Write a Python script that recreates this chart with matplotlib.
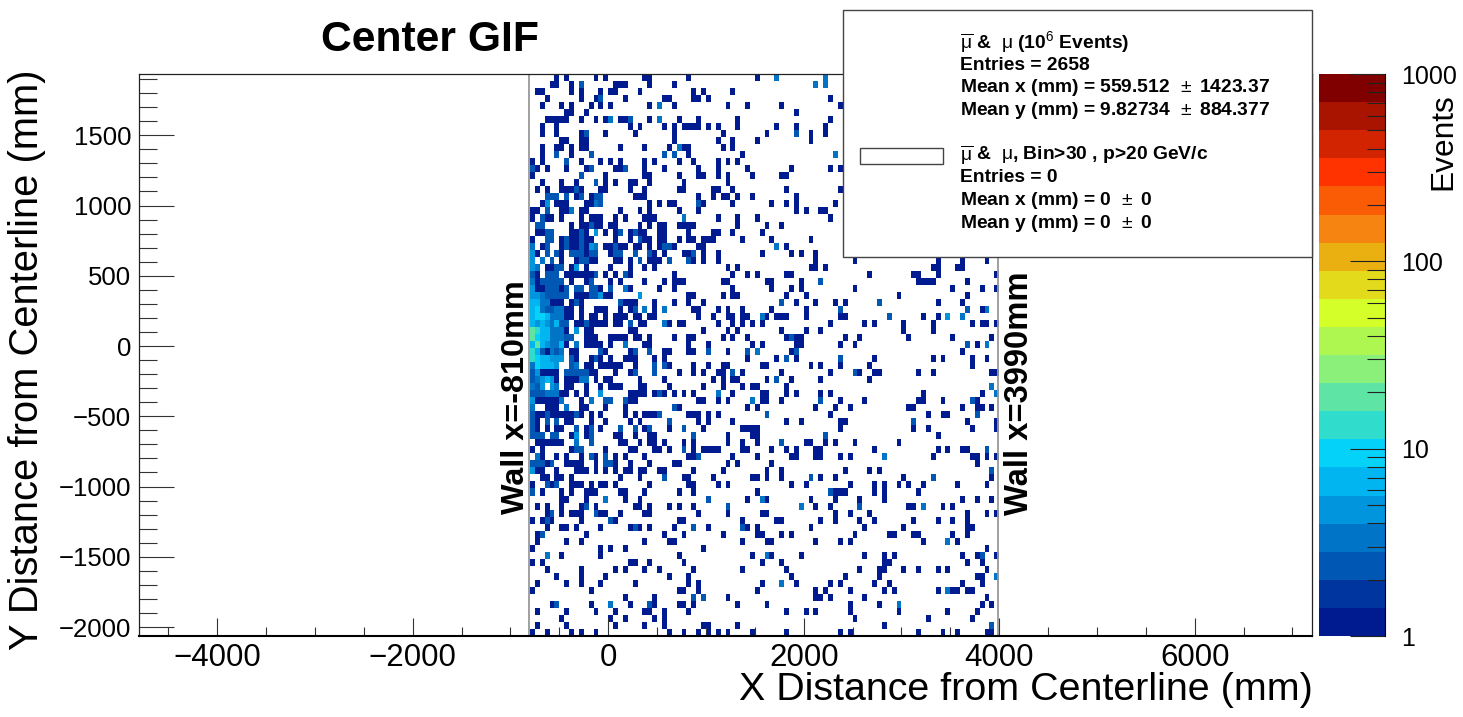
import numpy as np
import matplotlib
matplotlib.use("Agg")
import matplotlib.pyplot as plt
from matplotlib.colors import ListedColormap, BoundaryNorm
from matplotlib.patches import Rectangle
from matplotlib.ticker import FixedLocator, NullFormatter, FuncFormatter

plt.rcParams['font.family'] = ['Liberation Sans', 'DejaVu Sans']
plt.rcParams['mathtext.fontset'] = 'custom'
plt.rcParams['mathtext.rm'] = 'Liberation Sans'
plt.rcParams['mathtext.it'] = 'Liberation Sans'
plt.rcParams['mathtext.bf'] = 'Liberation Sans:bold'

W, H = 1463, 717
X_LIM = (-4800, 7200)
Y_LIM = (-2064, 1936)
BIN = 50
X_START = -800
N_COLS = 96
WALLS = [-810, 3990]

PALETTE = ['#001A8F', '#0035A0', '#0058B4', '#0075C8', '#0095DD', '#00B5F0', '#05D2F8',
           '#30DCCC', '#5EE5A5', '#8BF07A', '#AEF650', '#D4FF28', '#E2DA1A', '#EAB012',
           '#F58510', '#FA5C05', '#FF3300', '#D22400', '#A81400', '#800000']

# One list per histogram row, top row first. An int is a column holding one event;
# a (column, events) pair is a column holding more.
rows = [
 [5,7,13,15,23,24,32,46,(50,3),(60,3)],
 [4,5,8,(10,2),17,18,19,24,29,(58,3),(60,3)],
 [1,2,8,10,14,16,17,22,33,35,41],
 [3,10,13,(14,2),19,27,28,33,34,36,61],
 [2,6,8,12,14,16,24,(26,3),29,40,44,51,63],
 [7,8,11,54],
 [3,4,5,6,7,10,13,15,(16,3),18,19,(20,2),24,(26,3),30,34,42,61],
 [2,5,20,22,27,29,31,32,33,34,36,38,42,50,54,60],
 [2,5,10,(11,2),15,21,29,39,48,(54,2),57,60],
 [6,7,10,11,29,38,41,46,57],
 [2,5,6,8,10,11,18,23,28,(30,3),31,32,39,41],
 [2,(5,2),8,(12,2),(27,2),(29,2),32,43,(62,3)],
 [0,2,(7,2),10,14,16,18,23,25,30,33,38,40,42],
 [(0,2),1,3,7,11,(12,2),17,18,(19,2),23,27,34,38,44,53,61,63],
 [0,(10,2),15,23,24,30,34,35,38,40,45,51,52],
 [2,6,9,(13,2),15,17,20,21,24,31,40],
 [1,3,6,7,8,(9,2),10,14,15,20,23,30,31,37,38,41,52,63],
 [(3,2),(4,2),(5,2),(7,2),9,(10,2),12,(13,2),(14,2),21,22,23,34,37,39,40,42,45,54],
 [2,(3,4),5,6,7,11,12,(13,3),(14,2),24,26,28,29,(34,2),35,41,49,52,54,62],
 [0,1,(3,2),6,7,(8,3),10,11,18,22,24,30,34,54,56,59,60],
 [0,(2,2),3,4,6,10,12,13,14,17,19,23,24,25,(31,3),38,42,46,61],
 [(1,2),(2,2),8,10,11,(12,2),13,14,16,17,22,24,26,27,30,31,32,33,42,48,51],
 [1,2,(3,2),(4,2),8,9,(10,2),11,(13,4),15,17,(18,2),20,(21,2),22,23,26,27,32,37,38,41,47],
 [0,(3,2),(4,2),6,(7,2),8,9,(10,2),11,12,17,20,(22,2),23,24,26,27,30,32,33,35,36,37,43,49,57],
 [(0,3),2,(3,2),6,(7,2),8,9,(10,2),11,(12,4),(13,3),15,16,(17,2),18,19,21,22,24,26,(27,2),(28,2),29,34,35,(50,3),52],
 [(0,4),1,(3,2),(5,2),6,(8,2),(9,2),(10,2),11,(12,2),(13,2),16,(17,2),(18,2),(21,2),(24,2),25,27,31,32,(33,2),35,38,47,53,55,58],
 [(0,4),(2,3),(4,2),6,9,(10,2),(11,2),12,13,17,18,20,(22,2),24,25,26,(28,2),(32,2),33,35,38,58,66,83,88,93],
 [(0,4),(1,3),3,4,(5,2),(6,2),8,(9,4),11,16,20,23,25,40,42,57,58,60,82,83,87,88],
 [(0,2),1,(3,2),(4,2),(5,2),7,8,9,10,11,12,(13,2),15,17,(19,2),20,29,41,44,46,52,53,69,78,79,83,95],
 [(0,3),1,(2,2),(3,2),(4,2),(5,2),(6,2),8,11,(12,2),16,18,23,27,29,30,31,39,40,48,49,55,(59,2),79,80,81,82,89],
 [(0,4),1,2,(3,2),(4,2),(5,2),6,(7,2),(9,2),(10,2),(12,2),(13,2),14,(16,2),(19,3),20,26,29,41,49,53,55,66,86,92,95],
 [(0,4),(1,4),(2,3),(3,2),(4,2),(5,2),(6,2),(7,2),9,10,11,(12,2),(13,2),(14,4),15,16,(22,4),32,33,39,41,42,52,56,75,89],
 [(0,6),(1,6),(2,3),(3,3),4,5,6,8,(9,2),10,(18,2),19,20,21,25,29,32,35,(51,2),54,58,62,64,(71,2),83,88],
 [(0,6),(1,9),(2,3),(3,2),(4,2),(5,3),(6,3),7,8,10,13,14,15,18,20,(21,2),(23,3),25,(27,3),33,34,38,40,43,49,56,(63,2),(89,2),92,(93,3)],
 [(0,6),(1,9),(2,9),(3,6),(4,3),(5,3),(6,3),7,8,10,12,13,15,17,18,19,21,22,24,25,34,37,40,41,43,44,(47,3),48,50,51,52,56,63,64,(73,2),80,83,(85,4),(88,3)],
 [(0,6),(1,4),(2,6),(3,4),(4,3),(5,6),(6,2),(7,2),9,10,(11,2),12,13,14,15,17,18,(20,2),22,23,(27,3),28,30,31,38,41,43,45,47,61,68,70,76,82,90,92,93,95],
 [(0,18),(1,12),(2,6),(3,6),(4,3),(5,3),(6,3),7,(9,4),11,12,20,21,35,40,42,51,56,59,76,82],
 [(0,18),(1,9),(2,6),(3,6),(4,3),(5,3),(6,3),(7,2),(8,2),11,12,13,16,17,18,19,21,22,24,29,32,33,39,41,44,52,(53,2),54,55,64,67,77,86,94],
 [(0,6),(1,18),(2,6),(3,4),(4,3),(5,3),(6,6),7,(9,3),11,12,13,14,16,(19,3),23,24,32,36,45,47,54,55,63,66,(89,2),91,(93,3)],
 [(0,12),(1,6),(2,2),3,(4,3),(5,2),(6,3),8,9,(14,2),15,20,(21,2),(24,2),27,28,32,33,(36,2),40,(44,2),(46,3),53,(54,2),88],
 [(0,12),(1,9),(2,6),(3,6),(4,4),(5,4),(6,4),(8,2),9,12,(13,2),14,16,19,20,21,25,27,44,50,(52,2),54,(63,2),70,82,84,90,93],
 [(0,3),(1,9),(2,6),(3,6),(4,6),(5,4),(8,2),(9,3),11,12,14,15,16,17,18,21,(25,2),(27,2),28,33,36,39,40,47,48,57,59,63,69,90],
 [(0,2),(1,4),2,3,4,5,(7,2),(8,2),(9,2),(10,2),(11,2),12,13,17,20,(21,2),(25,2),30,33,35,38,39,(41,2),43,51,61,(66,2),67,70,71,79,82,94,95],
 [(0,2),(1,3),(2,4),(3,6),(4,4),5,7,8,9,(10,3),(11,3),13,15,16,22,27,37,39,41,42,48,(50,2),53,59,69],
 [(0,3),(1,2),(2,4),(4,4),(5,3),7,8,11,14,16,17,18,22,23,28,35,39,43,45,46,52,(94,3)],
 [(0,2),(1,2),(2,2),(3,3),(4,3),(5,3),6,7,9,11,(14,4),20,21,22,23,25,(26,2),27,29,31,33,(38,3),41,47,48,52,54,59,61,80,92,(95,3)],
 [(0,4),1,2,3,4,5,(6,3),10,(12,3),(15,2),(16,2),(19,2),20,21,34,35,38,40,(45,3),47,48,51,(59,2),63,68,79,80,84,(90,2),91],
 [(0,3),3,4,5,(7,3),10,11,15,19,(29,2),30,44,46,58,62,65,77,78,88,91,92,94],
 [(0,2),1,2,(3,2),4,5,6,7,8,(9,2),10,12,14,19,21,23,24,25,(26,2),32,33,34,36,38,(48,2),61,81,84,85,(91,2)],
 [(0,2),1,(3,2),(5,2),7,8,12,15,20,22,(28,2),34,36,41,52,55,63,64,(78,2),89,95],
 [(0,2),1,3,5,6,(9,2),11,(12,2),14,(18,2),(21,2),23,(24,2),28,(31,2),35,43,44,45,46,63,78,81,90,95],
 [(0,2),(1,2),(2,2),(4,2),(5,2),8,(9,4),11,(12,2),17,18,21,24,25,(33,2),40,45,46,(60,2),83],
 [1,2,3,4,5,6,(9,3),(12,2),18,19,22,24,25,27,31,33,40,43,46,(51,2),56,57,60,62,66,75],
 [0,2,8,(9,2),(10,2),15,20,21,25,26,28,(31,2),33,35,36,37,38,43,44,49,52,54,58,59,70,83,85,88,89,(93,2)],
 [(1,3),2,5,7,10,(12,2),13,(15,2),17,19,23,32,33,(34,2),41,46,53,54,58,59,63,65,(72,3),82,90,91,93,95],
 [(0,2),(1,2),(2,2),3,(4,2),7,8,9,10,13,(15,2),(16,2),17,20,24,29,30,40,42,49,91],
 [(0,4),1,2,5,9,10,11,13,15,17,19,20,22,23,26,27,33,39,48,51,64,69,71,(94,2)],
 [2,3,5,6,8,18,22,(27,2),31,32,37,45,46,48,51,(57,2),59,62,76,(82,2),94],
 [0,(3,2),4,(5,2),8,9,10,12,14,15,17,24,32,33,38,40,53,56,65,70,72,75,77,80,87,93],
 [(0,2),2,6,8,11,12,13,18,19,23,30,33,46,(61,2),62,63,64,70,72,79],
 [6,7,11,(15,3),19,22,(36,2),44,(47,3),48,57,62,67,72,88,91,94],
 [1,3,6,10,(11,2),13,21,22,24,28,30,33,(40,2),(55,3),58,61,(67,2),77,78,(80,3),84,86],
 [3,(4,2),6,8,9,10,(13,2),14,15,18,23,24,34,40,47,48,62,65,69,89,93,95],
 [0,2,(3,2),4,10,(16,2),17,30,31,43,50,51,59,62,67,70,78,83,86,89],
 [3,6,7,9,14,20,(21,2),22,24,29,(33,2),36,(43,2),44,46,57,68,76,89,90],
 [1,(2,2),11,27,31,39,46,47,51,53,66,73,74,78,79,86,89],
 [1,7,10,23,28,29,43,48,49,58,63,65,80,(85,3),87],
 [0,14,16,19,35,93],
 [(3,3),6,14,30,45,(48,3),49,55,68,72,74,88,91,(92,2),95],
 [0,2,20,21,24,31,47,51,72,73,89,92],
 [3,10,17,19,23,26,33,43,52,67,71,72,76,79,83,85,93],
 [5,10,15,28,32,53,64,71,91,92,(95,3)],
 [1,7,10,14,21,32,34,47,(51,3),54,61,63,70,73,88,92],
 [0,12,30,31,34,46,58,60,65,72,74,83,(85,3),86,87,89,90],
 [19,25,(33,2),(35,2),40,58,59,61,68,93],
 [4,(5,2),12,(16,3),20,(24,2),25,30,31,33,42,48,65,71,(75,3),92,94],
 [1,7,13,17,23,24,27,32,52,56,58,65,75,85,91],
 [6,16,19,25,27,66,81,90],
 [1,7,17,23,27,35,36,42,72,(94,2)],
 [0,3,8,10,13,28,31,34,36,38,40,45,52,63,65,79,84,87,93,94],
]

colorbar_ticks = [1, 10, 100, 1000]
legend_lines_1 = [r'$\overline{\mathrm{\mu}}$ &  $\mathrm{\mu}$ (10$^{6}$ Events)', 'Entries = 2658',
                  r'Mean x (mm) = 559.512 $\,\pm$ 1423.37', r'Mean y (mm) = 9.82734 $\,\pm$ 884.377']
legend_lines_2 = [r'$\overline{\mathrm{\mu}}$ &  $\mathrm{\mu}$, Bin>30 , p>20 GeV/c', 'Entries = 0',
                  r'Mean x (mm) = 0 $\,\pm$ 0', r'Mean y (mm) = 0 $\,\pm$ 0']


def fx(px):
    return px / W


def fy(py):
    return 1 - py / H


grid = np.zeros((len(rows), N_COLS))
for r, row in enumerate(rows):
    for item in row:
        col, n = item if isinstance(item, tuple) else (item, 1)
        grid[len(rows) - 1 - r, col] = n

fig = plt.figure(figsize=(W / 100, H / 100), dpi=100, facecolor='white')
ax = fig.add_axes([fx(139), fy(636), fx(1312) - fx(139), (636 - 74) / H])

bounds = np.logspace(0, 3, len(PALETTE) + 1)
cmap = ListedColormap(PALETTE)
norm = BoundaryNorm(bounds, cmap.N)
x_edges = X_START + BIN * np.arange(N_COLS + 1)
y_edges = Y_LIM[0] + BIN * np.arange(len(rows) + 1)
ax.pcolormesh(x_edges, y_edges, np.ma.masked_equal(grid, 0), cmap=cmap, norm=norm, zorder=1)
ax.set_xlim(*X_LIM)
ax.set_ylim(*Y_LIM)
for w in WALLS:
    ax.axvline(w, color='#999999', lw=1.3, zorder=2)

ax.xaxis.set_major_locator(FixedLocator(np.arange(-4000, 6001, 2000)))
ax.xaxis.set_minor_locator(FixedLocator(np.arange(-4500, 7200, 500)))
ax.yaxis.set_major_locator(FixedLocator(np.arange(-2000, 1501, 500)))
ax.yaxis.set_minor_locator(FixedLocator(np.arange(-2000, 1901, 100)))
ax.tick_params(axis='x', which='major', direction='in', length=13, width=0.8, labelsize=22.5, pad=5, color='#333333')
ax.tick_params(axis='x', which='minor', direction='in', length=6.5, width=0.8, color='#333333')
ax.tick_params(axis='y', which='major', direction='in', length=25, width=0.8, labelsize=18.5, pad=5.5, color='#333333')
ax.tick_params(axis='y', which='minor', direction='in', length=13, width=0.8, color='#333333')
for s in ax.spines.values():
    s.set_linewidth(0.9)
    s.set_color('#222222')
ax.spines['bottom'].set_linewidth(1.5)
ax.spines['bottom'].set_color('black')

cax = fig.add_axes([fx(1319), fy(636), fx(1385) - fx(1319), (636 - 74) / H])
for i, c in enumerate(PALETTE):
    cax.axhspan(bounds[i], bounds[i + 1], color=c, lw=0)
cax.set_yscale('log')
cax.set_ylim(1, 1000)
cax.set_xlim(0, 1)
cax.set_xticks([])
cax.yaxis.tick_right()
cax.yaxis.set_major_locator(FixedLocator(colorbar_ticks))
cax.yaxis.set_major_formatter(FuncFormatter(lambda v, _: f'{v:g}'))
minor = [m * d for d in (1, 10, 100) for m in range(2, 10)]
cax.yaxis.set_minor_locator(FixedLocator(minor))
cax.yaxis.set_minor_formatter(NullFormatter())
cax.tick_params(axis='y', which='major', direction='in', length=25, width=0.8, labelsize=18, pad=11.5, color='#222222')
cax.tick_params(axis='y', which='minor', direction='in', length=13, width=0.8, color='#222222')
for name, s in cax.spines.items():
    s.set_visible(name == 'right')
    s.set_linewidth(0.8)

fig.text(fx(430), fy(40), 'Center GIF', fontsize=30.7, fontweight='bold', ha='center', va='center')
fig.text(fx(1313), fy(690), 'X Distance from Centerline (mm)', fontsize=28.4, ha='right', va='center')
fig.text(fx(27), fy(360), 'Y Distance from Centerline (mm)', fontsize=28.7, rotation=90, ha='center', va='center')
fig.text(fx(1443), fy(142), 'Events', fontsize=22.8, rotation=90, ha='center', va='center')
fig.text(fx(516), fy(397), 'Wall x=-810mm', fontsize=23.3, fontweight='bold', rotation=90, ha='center', va='center')
fig.text(fx(1020), fy(393), 'Wall x=3990mm', fontsize=23.6, fontweight='bold', rotation=90, ha='center', va='center')

fig.add_artist(Rectangle((fx(843), fy(257)), fx(1312) - fx(843), (257 - 10) / H, transform=fig.transFigure,
                         facecolor='white', edgecolor='#444444', lw=1.0, zorder=5))
fig.add_artist(Rectangle((fx(860), fy(164)), fx(943) - fx(860), (164 - 148) / H, transform=fig.transFigure,
                         facecolor='white', edgecolor='#444444', lw=1.0, zorder=6))
for y, line in zip([43, 65, 87.5, 110.5], legend_lines_1):
    fig.text(fx(959.5), fy(y), line, fontsize=13.9, fontweight='bold', ha='left', va='center', zorder=7)
for y, line in zip([155.5, 178, 200.5, 223], legend_lines_2):
    fig.text(fx(959.5), fy(y), line, fontsize=13.9, fontweight='bold', ha='left', va='center', zorder=7)

fig.savefig('out.png', dpi=100)
